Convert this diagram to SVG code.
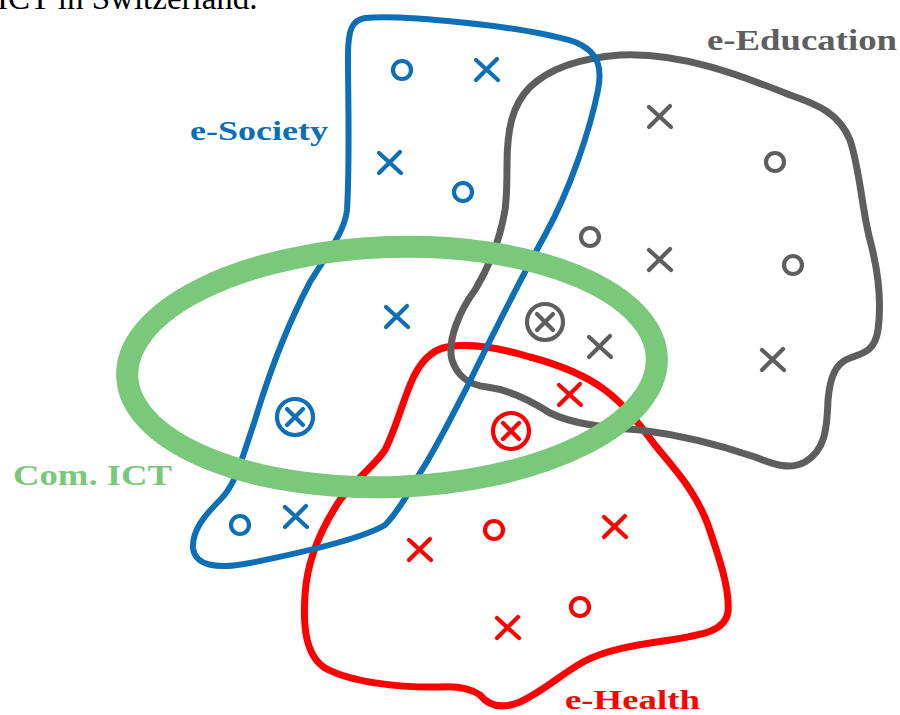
<svg xmlns="http://www.w3.org/2000/svg" width="900" height="715" viewBox="0 0 900 715">
<style>
.sh{fill:none;stroke-linejoin:round;stroke-linecap:round}
.mk{fill:none;stroke-width:4.2;stroke-linecap:round}
.blue{stroke:#0d6fb5}
.gray{stroke:#5e5e5e}
.red{stroke:#ff0000}
.lbl{font-family:"Liberation Serif","Times New Roman",serif;font-weight:bold}
</style>
<defs>
<path id="cx" d="M-11,-10 L11,10 M-11,10 L10,-11"/>
<circle id="co" r="9"/>
<g id="cox"><circle r="18"/><path d="M-8,-8 L8,8 M-8,8 L8,-8"/></g>
</defs>
<rect width="900" height="715" fill="#ffffff"/>
<text x="-3" y="9" font-family="'Liberation Serif','Times New Roman',serif" font-size="33" fill="#000">ICT in Switzerland.</text>

<g id="e-health">
<path class="sh red" stroke-width="7" d="M 447,347 C 470,343 500,348 530,357 C 560,365 585,375 605,390 C 625,405 640,425 655,445 C 675,470 695,490 708,525 C 720,560 730,590 728,612 C 725,632 700,635 670,640 C 635,645 605,650 583,662 C 560,675 545,690 520,702 C 500,710 488,705 480,695 C 470,688 455,686 440,687 C 400,688 350,682 325,668 C 305,655 303,625 305,595 C 307,560 320,530 340,500 C 360,475 375,465 385,450 C 395,430 400,410 410,385 C 418,365 430,350 447,347 Z"/>
<g class="mk red">
<use href="#cx" x="570" y="395"/>
<use href="#cox" x="511" y="431"/>
<use href="#cx" x="420" y="550"/>
<use href="#co" x="494" y="530"/>
<use href="#cx" x="615" y="527"/>
<use href="#co" x="580" y="607"/>
<use href="#cx" x="508" y="628"/>
</g>
<text class="lbl" x="565" y="709" font-size="28" fill="#ff0000" textLength="135" lengthAdjust="spacingAndGlyphs">e-Health</text>
</g>

<g id="e-education">
<path class="sh gray" stroke-width="7" d="M 507,165 C 507,130 512,105 530,87 C 550,68 580,58 620,55 C 680,52 740,75 790,95 C 820,105 840,115 850,140 C 860,170 862,210 870,240 C 878,270 882,300 878,330 C 875,350 865,353 850,358 C 835,363 830,378 828,400 C 827,430 825,450 805,462 C 790,470 775,465 755,457 C 720,445 680,435 640,430 C 605,427 575,425 550,413 C 530,400 510,390 487,387 C 470,385 458,378 452,360 C 447,340 460,310 475,290 C 490,265 500,240 505,210 C 507,195 507,180 507,165 Z"/>
<g class="mk gray">
<use href="#cx" x="660" y="117"/>
<use href="#co" x="775" y="162"/>
<use href="#co" x="590" y="237"/>
<use href="#cx" x="660" y="260"/>
<use href="#co" x="793" y="265"/>
<use href="#cox" x="545" y="322"/>
<use href="#cx" x="600" y="347"/>
<use href="#cx" x="773" y="360"/>
</g>
<text class="lbl" x="707" y="50" font-size="30" fill="#5e5e5e" textLength="190" lengthAdjust="spacingAndGlyphs">e-Education</text>
</g>

<g id="e-society">
<path class="sh blue" stroke-width="6" d="M 365,18 C 400,15 520,25 575,42 C 600,52 602,70 598,90 C 590,130 570,190 545,235 C 520,280 490,340 467,387 C 450,420 435,450 420,473 C 405,500 395,515 385,525 C 360,540 290,555 250,563 C 215,570 195,565 193,548 C 192,530 205,515 220,500 C 235,485 240,465 255,420 C 270,370 290,320 310,282 C 330,250 345,230 347,210 C 350,160 348,100 348,55 C 348,30 352,20 365,18 Z"/>
<g class="mk blue">
<use href="#co" x="402" y="70"/>
<use href="#cx" x="487" y="70"/>
<use href="#cx" x="390" y="163"/>
<use href="#co" x="463" y="192"/>
<use href="#cx" x="397" y="317"/>
<use href="#cox" x="295" y="417"/>
<use href="#co" x="240" y="525"/>
<use href="#cx" x="296" y="517"/>
</g>
<text class="lbl" x="190" y="140" font-size="28" fill="#0d6fb5" textLength="138" lengthAdjust="spacingAndGlyphs">e-Society</text>
</g>

<g id="com-ict">
<ellipse cx="392" cy="367" rx="265" ry="120" transform="rotate(-2 392 367)" fill="none" stroke="#7ac97b" stroke-width="22"/>
<text class="lbl" x="13" y="485" font-size="30" fill="#7ac97b" textLength="159" lengthAdjust="spacingAndGlyphs">Com. ICT</text>
</g>
</svg>
